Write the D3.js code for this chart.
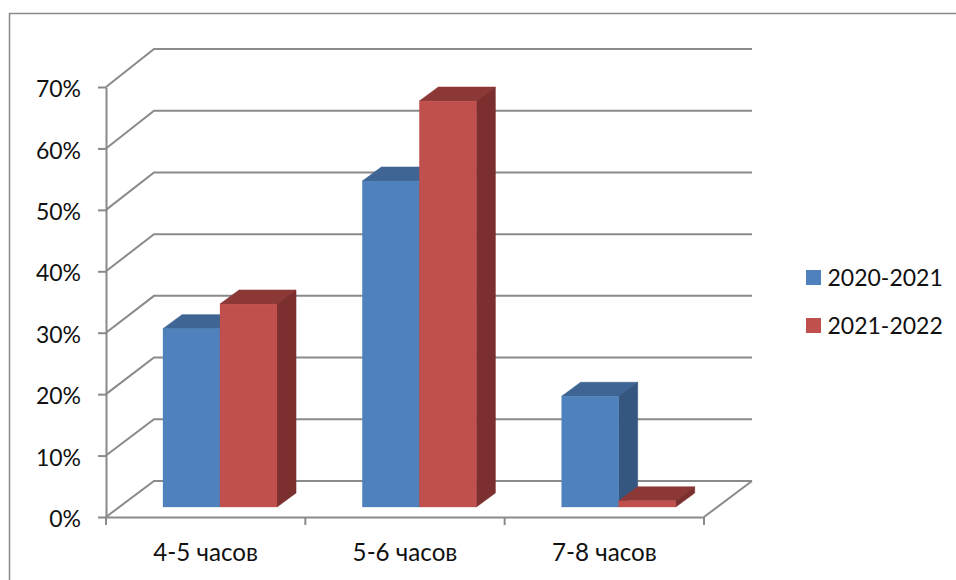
<!DOCTYPE html>
<html><head><meta charset="utf-8">
<script src="https://cdn.jsdelivr.net/npm/d3@7/dist/d3.min.js"></script>
<style>html,body{margin:0;padding:0;background:#fff;overflow:hidden}svg{display:block}
text{font-family:Lato,"Open Sans","Noto Sans",sans-serif;fill:#111}</style></head>
<body><svg id="c" width="956" height="580"></svg>
<script>
const categories = ["4-5 часов","5-6 часов","7-8 часов"];
const seriesNames = ["2020-2021","2021-2022"];
const values2020 = [29,53,18];
const values2021 = [33,66,1];
const yTicks = [0,10,20,30,40,50,60,70];
const faces = {
  "2020-2021":{front:"#4F81BD",top:"#3E6594",side:"#34567F"},
  "2021-2022":{front:"#C0504D",top:"#8C3836",side:"#7B2F2E"}
};
const grid="#8A8A8A", fs=23, fsX=24.2;
const svg=d3.select("#c");
svg.append("path").attr("d","M9.5,580V13.5H956").attr("fill","none").attr("stroke",grid).attr("stroke-width",1.5);

const y=d3.scaleLinear().domain([0,70]).range([517,87]);
const yBack=d3.scaleLinear().domain([0,70]).range([481,49]);
const yBar=d3.scaleLinear().domain([0,70]).range([507,76.5]);
const x=d3.scaleBand().domain(categories).range([106,704]);
const x1=d3.scaleBand().domain(seriesNames).range([57,171]);
const depthX=48, backRight=752, barDX=19, barDY=14;

// walls and floor
const g=svg.append("g").attr("fill","none").attr("stroke",grid).attr("stroke-width",2);
g.selectAll("path.wall").data(yTicks).join("path").attr("class","wall")
 .attr("d",t=>`M${x.range()[0]},${y(t)}L${x.range()[0]+depthX},${yBack(t)}H${backRight}`);
g.append("path").attr("d",`M${x.range()[1]},${y(0)}L${backRight},${yBack(0)}`);

// axes
const yAxis=svg.append("g").attr("transform",`translate(${x.range()[0]},0)`)
 .call(d3.axisLeft(y).tickValues(yTicks).tickFormat(d=>d+"%").tickSize(8).tickPadding(17).tickSizeOuter(0));
const xAxis=svg.append("g").attr("transform",`translate(0,${y(0)})`)
 .call(d3.axisBottom(x).tickSize(0).tickPadding(27).tickSizeOuter(0));
svg.append("g").attr("stroke",grid).attr("stroke-width",2)
 .selectAll("line").data(d3.range(categories.length+1)).join("line")
 .attr("x1",i=>x.range()[0]+i*x.step()).attr("x2",i=>x.range()[0]+i*x.step())
 .attr("y1",y(0)).attr("y2",y(0)+8);
[yAxis,xAxis].forEach(a=>{
  a.selectAll("path.domain,line").attr("stroke",grid).attr("stroke-width",2);
  a.selectAll("text").attr("fill","#111");
  a.attr("font-family",null);
});
yAxis.selectAll("text").attr("font-size",fs).attr("dy","0.42em");
xAxis.selectAll("text").attr("font-size",fsX);

// bars
const rows=[values2020,values2021];
categories.forEach((c,i)=>{
  seriesNames.forEach((s,j)=>{
    const v=rows[j][i], f=faces[s];
    const l=x(c)+x1(s), r=l+x1.bandwidth(), t=yBar(v), b=yBar(0);
    const bar=svg.append("g").attr("class","bar").attr("stroke-width",0.6);
    bar.append("path").attr("d",`M${l},${t}L${l+barDX},${t-barDY}H${r+barDX}L${r},${t}Z`)
      .attr("fill",f.top).attr("stroke",f.top);
    bar.append("path").attr("d",`M${r},${t}L${r+barDX},${t-barDY}V${b-barDY}L${r},${b}Z`)
      .attr("fill",f.side).attr("stroke",f.side);
    bar.append("rect").attr("x",l).attr("y",t).attr("width",r-l).attr("height",b-t)
      .attr("fill",f.front).attr("stroke",f.front).attr("stroke-opacity",0.45);
  });
});

// legend
const legY=d3.scalePoint().domain(seriesNames).range([277.5,325.5]);
const leg=svg.selectAll("g.leg").data(seriesNames).join("g").attr("class","leg")
 .attr("transform",d=>`translate(806,${legY(d)})`);
leg.append("rect").attr("y",-7.5).attr("width",15).attr("height",15).attr("fill",d=>faces[d].front);
leg.append("text").attr("x",21.5).attr("dy","0.36em").attr("font-size",fs).text(d=>d);
</script></body></html>
